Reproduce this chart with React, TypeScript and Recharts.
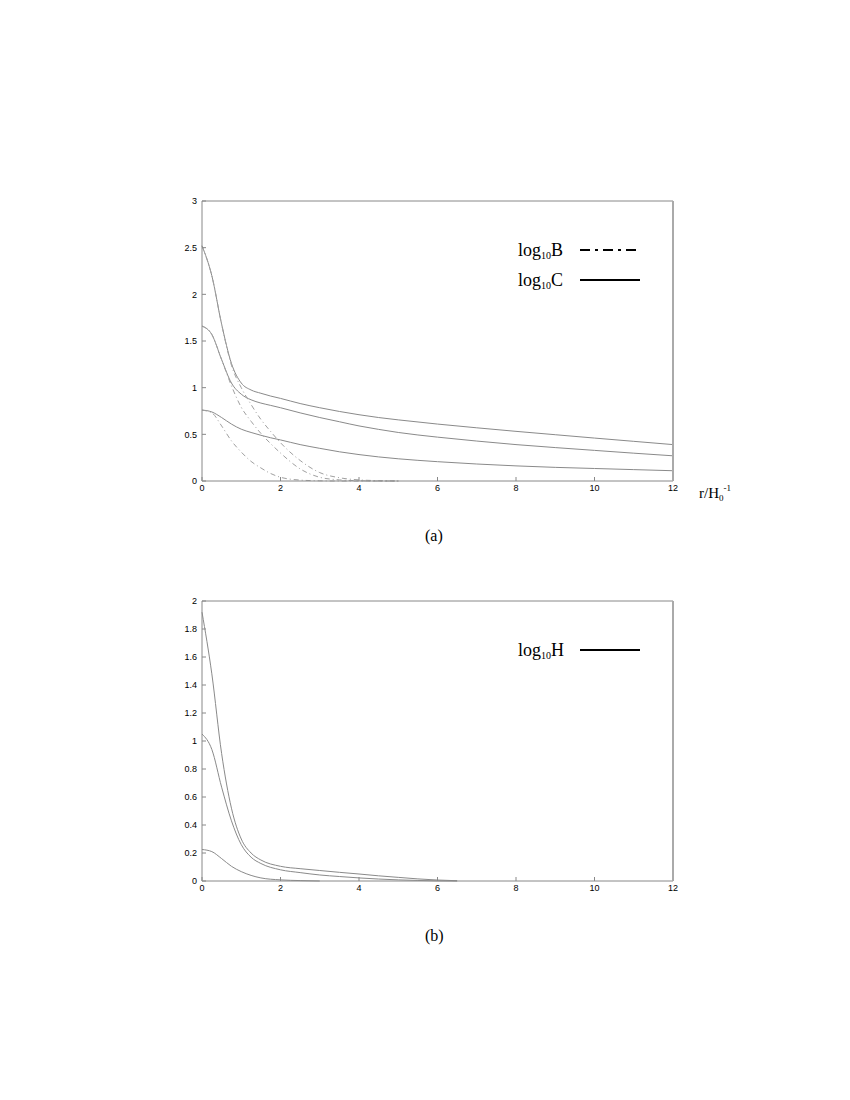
import { LineChart, Line, XAxis, YAxis } from 'recharts'

// panel (a): r in units of H0^-1
const rTop = [0, 0.25, 0.5, 0.75, 1, 1.25, 1.5, 1.75, 2, 2.5, 3, 3.5, 4, 4.5, 5, 6, 7, 8, 9, 10, 11, 12]

const logC1 = [2.52, 2.2, 1.68, 1.26, 1.05, 0.975, 0.94, 0.91, 0.885, 0.83, 0.785, 0.745, 0.71, 0.68, 0.655, 0.61, 0.57, 0.532, 0.496, 0.46, 0.425, 0.39]
const logC2 = [1.66, 1.57, 1.3, 1.05, 0.93, 0.87, 0.835, 0.81, 0.785, 0.73, 0.68, 0.635, 0.59, 0.553, 0.52, 0.47, 0.428, 0.39, 0.358, 0.328, 0.298, 0.27]
const logC3 = [0.76, 0.74, 0.68, 0.61, 0.555, 0.52, 0.49, 0.463, 0.44, 0.39, 0.35, 0.313, 0.283, 0.258, 0.238, 0.207, 0.182, 0.162, 0.146, 0.134, 0.122, 0.11]

const logB1 = [2.52, 2.2, 1.68, 1.24, 1.0, 0.82, 0.66, 0.53, 0.41, 0.22, 0.09, 0.035, 0.012, 0.004, 0, null, null, null, null, null, null, null]
const logB2 = [1.66, 1.57, 1.3, 1.02, 0.79, 0.64, 0.51, 0.4, 0.3, 0.13, 0.04, 0.012, 0.003, 0, 0, null, null, null, null, null, null, null]
const logB3 = [0.76, 0.73, 0.59, 0.43, 0.31, 0.21, 0.14, 0.08, 0.04, 0.01, 0.002, 0, 0, 0, 0, null, null, null, null, null, null, null]

// panel (b)
const rBottom = [0, 0.25, 0.5, 0.75, 1, 1.25, 1.5, 2, 2.5, 3, 3.5, 4, 4.5, 5, 5.5, 6, 6.5]
const logH1 = [1.92, 1.48, 0.91, 0.52, 0.3, 0.2, 0.15, 0.105, 0.088, 0.075, 0.062, 0.05, 0.037, 0.026, 0.015, 0.007, 0.002]
const logH2 = [1.05, 0.94, 0.67, 0.43, 0.26, 0.17, 0.125, 0.08, 0.06, 0.043, 0.032, 0.022, 0.014, 0.008, 0.004, 0.001, 0]
const logH3 = [0.225, 0.21, 0.16, 0.105, 0.067, 0.04, 0.022, 0.008, 0.003, 0, null, null, null, null, null, null, null]

const xTicks = [0, 2, 4, 6, 8, 10, 12]
const yTicksTop = [0, 0.5, 1, 1.5, 2, 2.5, 3]
const yTicksBottom = [0, 0.2, 0.4, 0.6, 0.8, 1, 1.2, 1.4, 1.6, 1.8, 2]

const topData = rTop.map((r, i) => ({ r, c1: logC1[i], c2: logC2[i], c3: logC3[i], b1: logB1[i], b2: logB2[i], b3: logB3[i] }))
const bottomData = rBottom.map((r, i) => ({ r, h1: logH1[i], h2: logH2[i], h3: logH3[i] }))

const tickFont = { fontFamily: 'Liberation Sans, Arial, sans-serif', fontSize: 9, fill: '#000' }
const serif = 'Liberation Serif, Times New Roman, serif'
const curve = '#8a8a8a'

function Panel({ data, keys, dashed, yMax, yTicks }: { data: any[]; keys: string[]; dashed: string[]; yMax: number; yTicks: number[] }) {
  return (
    <LineChart width={553} height={315} data={data} margin={{ top: 9, right: 39, bottom: 5, left: 0 }}>
      <XAxis dataKey="r" type="number" domain={[0, 12]} ticks={xTicks} stroke="#888" tickSize={-4} tickMargin={8} tick={tickFont} height={20} />
      <XAxis xAxisId="top" orientation="top" dataKey="r" type="number" domain={[0, 12]} ticks={xTicks} stroke="#888" tickSize={-4} tick={false} height={1} />
      <YAxis type="number" domain={[0, yMax]} ticks={yTicks} stroke="#888" tickSize={-4} tickMargin={9} tick={tickFont} width={42} />
      <YAxis yAxisId="right" orientation="right" type="number" domain={[0, yMax]} ticks={yTicks} stroke="#aaa" strokeWidth={2} tickSize={-4} tick={false} width={1} />
      {keys.map(k => (
        <Line key={k} type="monotone" dataKey={k} stroke={curve} strokeWidth={1} dot={false} isAnimationActive={false} />
      ))}
      {dashed.map(k => (
        <Line key={k} type="monotone" dataKey={k} stroke="#a0a0a0" strokeWidth={1} strokeDasharray="5 3 1 3" dot={false} isAnimationActive={false} />
      ))}
    </LineChart>
  )
}

function LegendRow({ top, label, dash }: { top: number; label: string; dash?: string }) {
  return (
    <div style={{ position: 'absolute', left: 518, top, height: 24, width: 130, fontFamily: serif, fontSize: 18, color: '#000', lineHeight: '24px' }}>
      <span>log<sub style={{ fontSize: 10, verticalAlign: '-3px' }}>10</sub>{label}</span>
      <svg width={62} height={6} style={{ position: 'absolute', left: 62, top: 9 }}>
        <line x1={0} y1={3} x2={60} y2={3} stroke="#000" strokeWidth={2} strokeDasharray={dash} />
      </svg>
    </div>
  )
}

export default function App() {
  return (
    <div style={{ position: 'absolute', left: 0, top: 0, width: 850, height: 1100, background: '#fff' }}>
      <div style={{ position: 'absolute', left: 160, top: 191 }}>
        <Panel data={topData} keys={['c1', 'c2', 'c3']} dashed={['b1', 'b2', 'b3']} yMax={3} yTicks={yTicksTop} />
      </div>
      <LegendRow top={238} label="B" dash="10 5 3 5" />
      <LegendRow top={268} label="C" />
      <div style={{ position: 'absolute', left: 699, top: 478, fontFamily: serif, fontSize: 15, color: '#000', lineHeight: '20px' }}>
        r/H<sub style={{ fontSize: 9, verticalAlign: '-3px' }}>0</sub><sup style={{ fontSize: 9, verticalAlign: '7px' }}>-1</sup>
      </div>
      <div style={{ position: 'absolute', left: 425, top: 527, fontFamily: serif, fontSize: 16, color: '#000' }}>(a)</div>

      <div style={{ position: 'absolute', left: 160, top: 591 }}>
        <Panel data={bottomData} keys={['h1', 'h2', 'h3']} dashed={[]} yMax={2} yTicks={yTicksBottom} />
      </div>
      <LegendRow top={638} label="H" />
      <div style={{ position: 'absolute', left: 425, top: 927, fontFamily: serif, fontSize: 16, color: '#000' }}>(b)</div>
    </div>
  )
}
